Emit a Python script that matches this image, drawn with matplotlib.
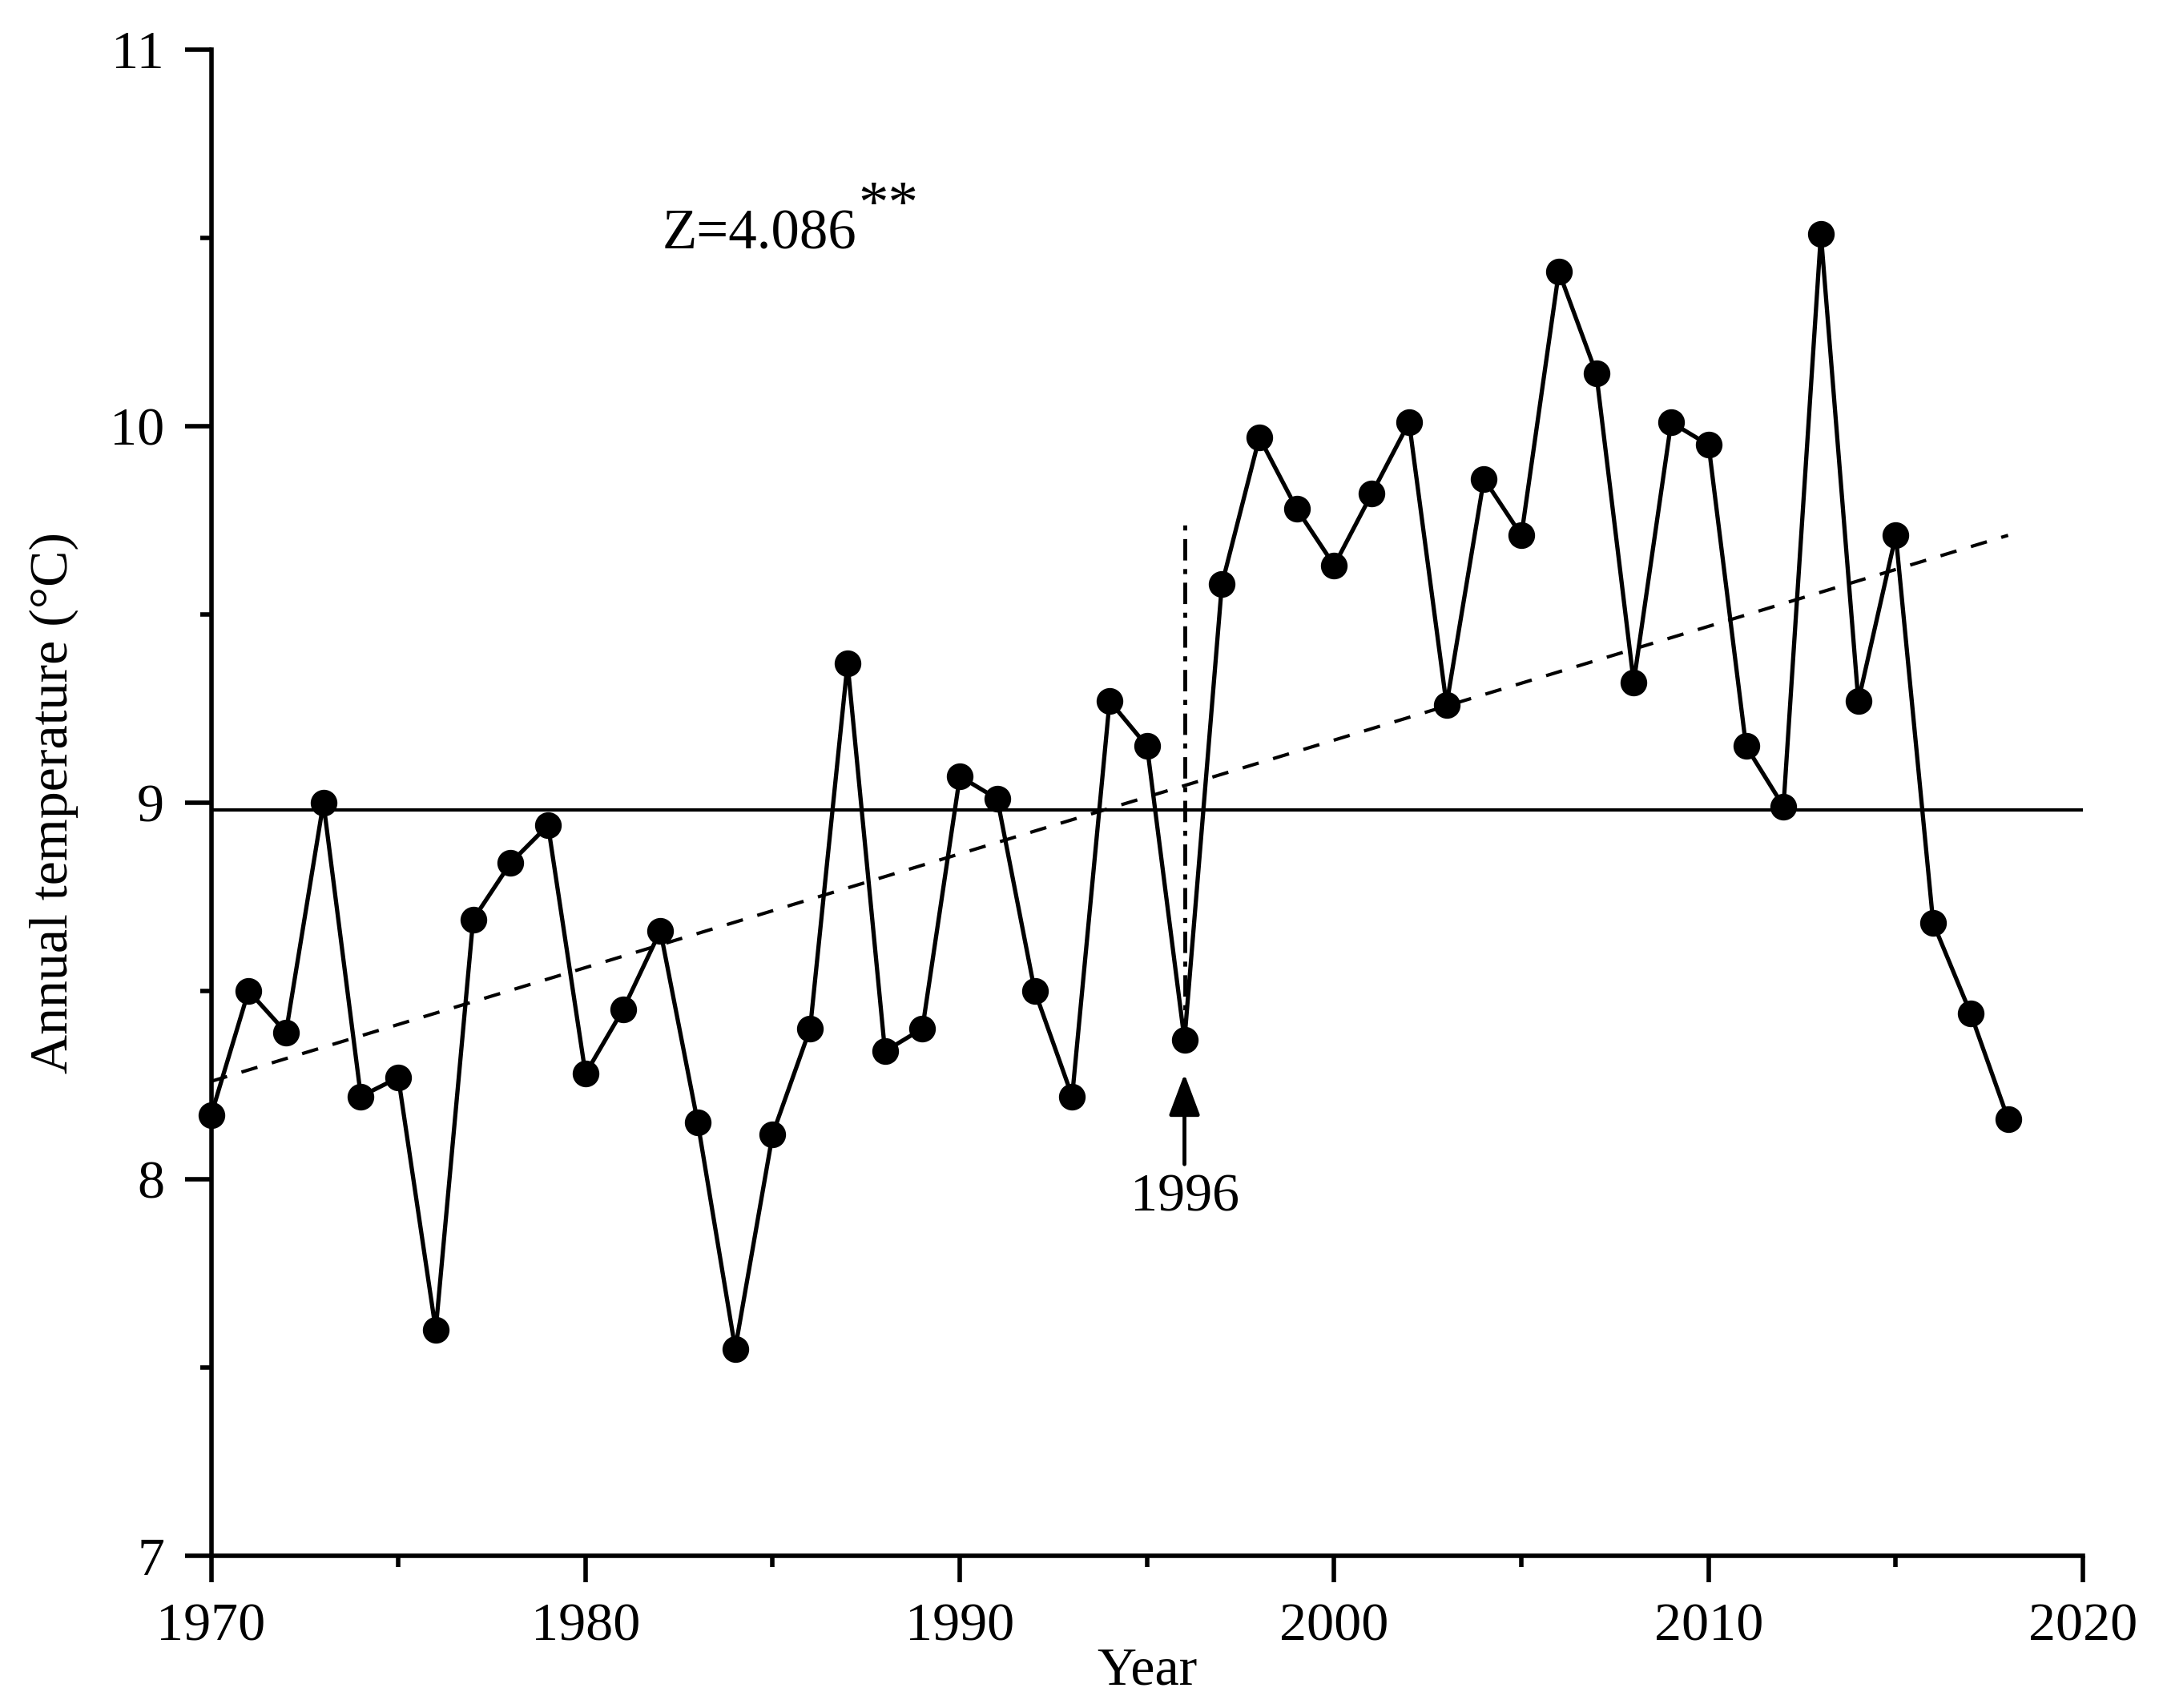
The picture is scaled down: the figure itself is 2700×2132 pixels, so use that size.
import matplotlib
matplotlib.use('Agg')
import matplotlib.pyplot as plt
import numpy as np

plt.rcParams['font.family'] = ['Liberation Serif', 'DejaVu Serif']

# annual mean temperature
years = list(range(1970, 2019))
temp = [8.17, 8.50, 8.39, 9.00, 8.22, 8.27, 7.60, 8.69, 8.84, 8.94,
        8.28, 8.45, 8.66, 8.15, 7.55, 8.12, 8.40, 9.37, 8.34, 8.40,
        9.07, 9.01, 8.50, 8.22, 9.27, 9.15, 8.37, 9.58, 9.97, 9.78,
        9.63, 9.82, 10.01, 9.26, 9.86, 9.71, 10.41, 10.14, 9.32, 10.01,
        9.95, 9.15, 8.99, 10.51, 9.27, 9.71, 8.68, 8.44, 8.16]

mean_temp = 8.98
trend_years = [1970, 2018]
trend_vals = [8.26, 9.71]
change_year = 1996
change_top = 9.75
z_text = 'Z=4.086'

fig = plt.figure(figsize=(27, 21.32), dpi=100)
ax = fig.add_axes([0.0976, 0.0891, 0.8654, 0.8819])

ax.axhline(mean_temp, color='black', lw=3, zorder=1)
ax.plot(trend_years, trend_vals, color='black', lw=3, dashes=(5, 4.5), zorder=1)
ax.plot([change_year, change_year], [temp[years.index(change_year)], change_top],
        color='black', lw=3.5, dashes=(5.5, 2.2, 1.3, 2.2), zorder=1)
ax.plot(years, temp, color='black', lw=3.8, marker='o', markersize=23,
        clip_on=False, zorder=3)

ax.annotate('', xy=(change_year, 8.28), xytext=(change_year, 8.04),
            arrowprops=dict(arrowstyle='-|>,head_length=0.8,head_width=0.3',
                            color='black', lw=3.5, mutation_scale=40,
                            shrinkA=0, shrinkB=0))
ax.text(change_year, 7.95, str(change_year), ha='center', va='center', fontsize=49)

t = ax.text(1982.05, 10.47, z_text, ha='left', va='baseline', fontsize=51)
ax.annotate('**', xy=(1.01, 0.5), xycoords=t, ha='left', va='bottom', fontsize=54)

ax.set_xlim(1970, 2020)
ax.set_ylim(7, 11)
ax.set_xticks([1970, 1980, 1990, 2000, 2010, 2020])
ax.set_xticks(np.arange(1975, 2020, 10), minor=True)
ax.set_yticks([7, 8, 9, 10, 11])
ax.set_yticks([7.5, 8.5, 9.5, 10.5], minor=True)

for s in ['top', 'right']:
    ax.spines[s].set_visible(False)
for s in ['left', 'bottom']:
    ax.spines[s].set_linewidth(4)

ax.tick_params(which='major', direction='out', length=24, width=4,
               labelsize=49, pad=18)
ax.tick_params(which='minor', direction='out', length=10, width=4)

ax.set_xlabel('Year', fontsize=49, labelpad=-4)
ax.set_ylabel('Annual temperature (\u00b0C)', fontsize=49, labelpad=28)

fig.savefig('out.png', dpi=100)
